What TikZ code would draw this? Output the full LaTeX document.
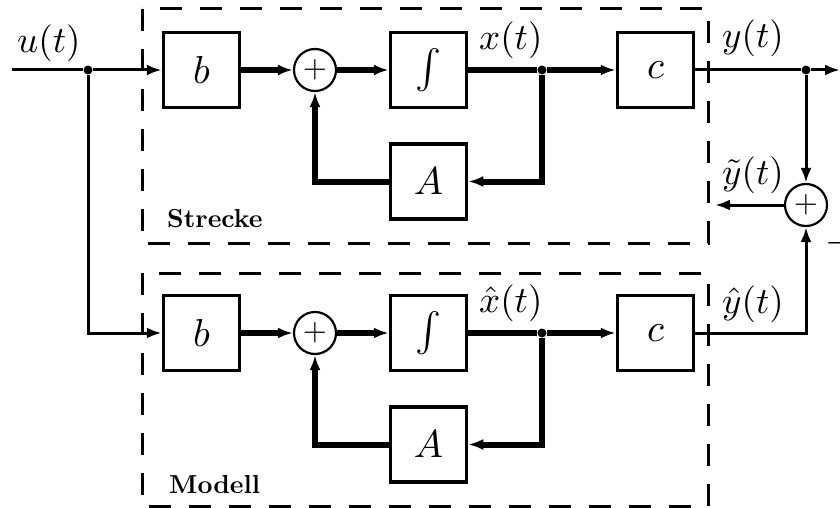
\documentclass[tikz,border=0pt]{standalone}
\usepackage{graphicx}
\usetikzlibrary{arrows.meta}
\newcommand{\mbig}[1]{\scalebox{3.9}{$#1$}}
\newcommand{\mlab}[1]{\scalebox{3.7}{$#1$}}
\newcommand{\mplus}{\scalebox{3.1}{$+$}}
\newcommand{\glab}[1]{\scalebox{2.6}{\bfseries #1}}
\begin{document}
\begin{tikzpicture}[x=1pt,y=1pt,
  blk/.style={draw,line width=3.5pt,minimum width=76pt,minimum height=75pt,inner sep=0pt},
  sumn/.style={circle,draw,line width=2.2pt,minimum size=42pt,inner sep=0pt},
  sig/.style={line width=3pt},
  fat/.style={line width=6pt},
  tip/.style={-{Latex[length=15pt,width=11pt]}},
  lbl/.style={anchor=base west,inner sep=0pt},
  grp/.style={draw,line width=3pt,dash pattern=on 22pt off 18pt},
  dot/.style={circle,fill,inner sep=0pt,minimum size=9pt},
  grplbl/.style={anchor=base west,inner sep=0pt}]
\useasboundingbox (0,0) rectangle (840,-508);
% groups
\draw[grp] (142,-9) rectangle (708,-243);
\draw[grp] (142,-273) rectangle (708,-506.5);
% upper path
\coordinate (uin) at (12,-70);
\node[dot] (j1) at (88,-70) {};
\node[blk] (b1) at (201.5,-70) {\mbig{b}};
\node[sumn] (s1) at (315,-70) {\mplus};
\node[blk] (i1) at (428.5,-70) {\mbig{\int}};
\node[dot] (j2) at (542,-70) {};
\node[blk] (c1) at (655.5,-70) {\mbig{c}};
\node[dot] (j3) at (806,-70) {};
\coordinate (yout) at (840,-70);
\node[blk] (a1) at (428.5,-181.5) {\mbig{A}};
\node[sumn] (s3) at (806,-205) {\mplus};
\coordinate (ytil) at (715,-205);
% lower path
\node[blk] (b2) at (201.5,-333) {\mbig{b}};
\node[sumn] (s2) at (315,-333) {\mplus};
\node[blk] (i2) at (428.5,-333) {\mbig{\int}};
\node[dot] (j4) at (542,-333) {};
\node[blk] (c2) at (655.5,-333) {\mbig{c}};
\node[blk] (a2) at (428.5,-444.5) {\mbig{A}};
% connectors upper
\draw[sig] (uin) -- (j1);
\draw[sig,tip] (j1) -- (b1);
\draw[fat,tip] (b1) -- (s1);
\draw[fat,tip] (s1) -- (i1);
\draw[fat] (i1) -- (j2);
\draw[fat,tip] (j2) -- (c1);
\draw[fat,tip] (j2) |- (a1);
\draw[fat,tip] (a1) -| (s1);
\draw[sig] (c1) -- (j3);
\draw[sig,tip] (j3) -- (yout);
\draw[sig,tip] (j3) -- (s3);
\draw[sig,tip] (s3) -- (ytil);
% connectors lower
\draw[sig,tip] (j1) |- (b2);
\draw[fat,tip] (b2) -- (s2);
\draw[fat,tip] (s2) -- (i2);
\draw[fat] (i2) -- (j4);
\draw[fat,tip] (j4) -- (c2);
\draw[fat,tip] (j4) |- (a2);
\draw[fat,tip] (a2) -| (s2);
\draw[sig,tip] (c2) -| (s3);
% labels
\node[lbl] (lu) at (17,-53) {\mlab{u(t)}};
\node[lbl] (lx) at (479,-50) {\mlab{x(t)}};
\node[lbl] (ly) at (722,-48) {\mlab{y(t)}};
\node[lbl] (lyt) at (722,-184) {\mlab{\tilde y(t)}};
\node[lbl] (lxh) at (479,-312) {\mlab{\hat x(t)}};
\node[lbl] (lyh) at (722,-313) {\mlab{\hat y(t)}};
\node[lbl,anchor=base west] (lmin) at (825,-252) {\mlab{-}};
\node[grplbl] (ls) at (167,-227) {\glab{Strecke}};
\node[grplbl] (lm) at (169,-493) {\glab{Modell}};
\end{tikzpicture}
\end{document}
